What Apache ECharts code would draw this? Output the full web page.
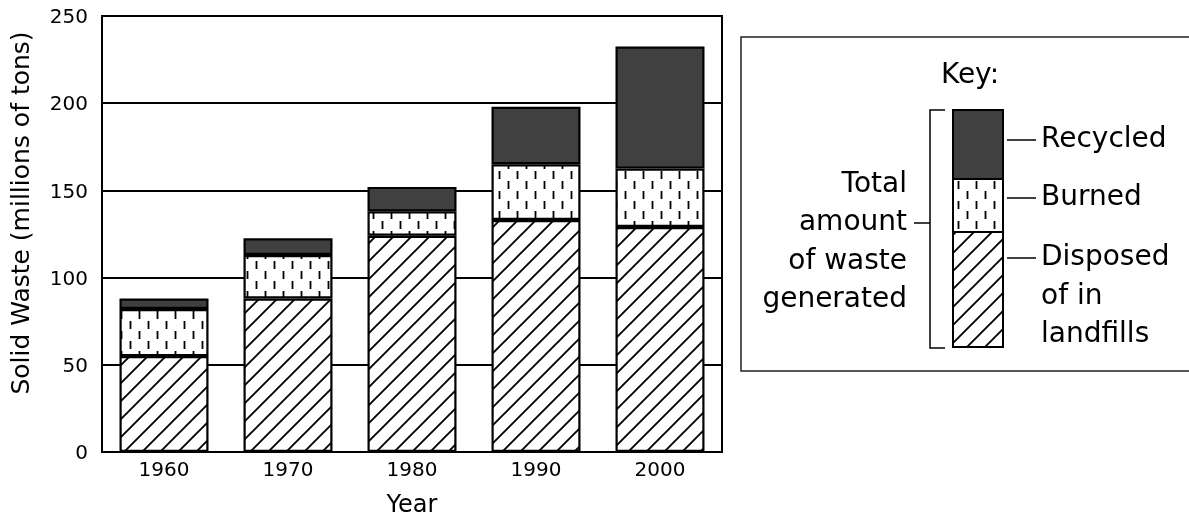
<!DOCTYPE html>
<html><head><meta charset="utf-8">
<script src="https://cdn.jsdelivr.net/npm/echarts@6/dist/echarts.min.js"></script>
<style>html,body{margin:0;padding:0;background:#fff}#c{width:1189px;height:523px}</style>
</head><body><div id="c"></div>
<script>
const categories = ['1960', '1970', '1980', '1990', '2000'];
const landfill = [55, 88, 124, 133, 129];
const burned = [27, 25, 14, 32, 33.5];
const recycled = [6, 9.5, 14, 33, 70];
const yTicks = [0, 50, 100, 150, 200, 250];

const FONT = 'DejaVu Sans';

function hatchPattern() {
  const s = 18, c = document.createElement('canvas');
  c.width = s; c.height = s;
  const g = c.getContext('2d');
  g.fillStyle = '#fff'; g.fillRect(0, 0, s, s);
  g.strokeStyle = '#000'; g.lineWidth = 1.9;
  g.beginPath();
  g.moveTo(-2, s + 2); g.lineTo(s + 2, -2);
  g.moveTo(-2, 2); g.lineTo(2, -2);
  g.moveTo(s - 2, s + 2); g.lineTo(s + 2, s - 2);
  g.stroke();
  return { image: c, repeat: 'repeat' };
}
function dashPattern() {
  const w = 18, h = 20, c = document.createElement('canvas');
  c.width = w; c.height = h;
  const g = c.getContext('2d');
  g.fillStyle = '#fff'; g.fillRect(0, 0, w, h);
  g.strokeStyle = '#000'; g.lineWidth = 1.8;
  g.beginPath();
  g.moveTo(4.5, 1); g.lineTo(4.5, 9);
  g.moveTo(13.5, 11); g.lineTo(13.5, 19);
  g.stroke();
  return { image: c, repeat: 'repeat' };
}
const HATCH = hatchPattern();
const DASH = dashPattern();
const DARK = '#404040';

const chart = echarts.init(document.getElementById('c'));
const segStyle = (fill) => ({ color: fill, borderColor: '#000', borderWidth: 2.2 });

const keyX = 953, keyW = 50;
const KF = '28px ' + FONT;
const option = {
  animation: false,
  textStyle: { fontFamily: FONT, color: '#000' },
  grid: { left: 102, right: 467, top: 16, bottom: 70, show: true, borderColor: '#000', borderWidth: 2, backgroundColor: 'transparent' },
  xAxis: {
    type: 'category', data: categories,
    axisLine: { lineStyle: { color: '#000', width: 2 } },
    axisTick: { show: false },
    axisLabel: { color: '#000', fontSize: 20, fontFamily: FONT, margin: 9 },
    name: 'Year', nameLocation: 'middle', nameGap: 42,
    nameTextStyle: { color: '#000', fontSize: 24, fontFamily: FONT }
  },
  yAxis: {
    type: 'value', min: yTicks[0], max: yTicks[yTicks.length - 1], interval: 50,
    axisLine: { show: true, lineStyle: { color: '#000', width: 2 } },
    axisTick: { show: false },
    splitLine: { lineStyle: { color: '#000', width: 2 } },
    axisLabel: { color: '#000', fontSize: 20, fontFamily: FONT, margin: 14, verticalAlign: 'top', padding: [-8, 0, 0, 0] }
  },
  series: [
    { name: 'Disposed of in landfills', type: 'bar', stack: 'w', data: landfill, barWidth: 89, itemStyle: segStyle(HATCH) },
    { name: 'Burned', type: 'bar', stack: 'w', data: burned, barWidth: 89, itemStyle: segStyle(DASH) },
    { name: 'Recycled', type: 'bar', stack: 'w', data: recycled, barWidth: 89, itemStyle: segStyle(DARK) }
  ],
  graphic: [
    { type: 'text', x: 22, y: 213, rotation: Math.PI / 2, style: { text: 'Solid Waste (millions of tons)', font: '25px ' + FONT, fill: '#000', align: 'center', verticalAlign: 'middle' } },
    { type: 'rect', shape: { x: 741, y: 37, width: 460, height: 334 }, style: { fill: '#fff', stroke: '#222', lineWidth: 1.5 } },
    { type: 'text', x: 970, y: 76, style: { text: 'Key:', font: KF, fill: '#000', align: 'center', verticalAlign: 'middle' } },
    { type: 'rect', shape: { x: keyX, y: 110, width: keyW, height: 69 }, style: { fill: DARK, stroke: '#000', lineWidth: 2 } },
    { type: 'rect', shape: { x: keyX, y: 179, width: keyW, height: 53 }, style: { fill: DASH, stroke: '#000', lineWidth: 2 } },
    { type: 'rect', shape: { x: keyX, y: 232, width: keyW, height: 115 }, style: { fill: HATCH, stroke: '#000', lineWidth: 2 } },
    { type: 'polyline', shape: { points: [[945, 110], [930, 110], [930, 348], [945, 348]] }, style: { stroke: '#000', lineWidth: 1.5, fill: null } },
    { type: 'line', shape: { x1: 914, y1: 223, x2: 930, y2: 223 }, style: { stroke: '#000', lineWidth: 1.5 } },
    { type: 'line', shape: { x1: 1007, y1: 140, x2: 1036, y2: 140 }, style: { stroke: '#000', lineWidth: 1.5 } },
    { type: 'line', shape: { x1: 1007, y1: 198, x2: 1036, y2: 198 }, style: { stroke: '#000', lineWidth: 1.5 } },
    { type: 'line', shape: { x1: 1007, y1: 258, x2: 1036, y2: 258 }, style: { stroke: '#000', lineWidth: 1.5 } },
    { type: 'text', x: 1041, y: 140, style: { text: 'Recycled', font: KF, fill: '#000', verticalAlign: 'middle' } },
    { type: 'text', x: 1041, y: 198, style: { text: 'Burned', font: KF, fill: '#000', verticalAlign: 'middle' } },
    { type: 'text', x: 1041, y: 258, style: { text: 'Disposed', font: KF, fill: '#000', verticalAlign: 'middle' } },
    { type: 'text', x: 1041, y: 297, style: { text: 'of in', font: KF, fill: '#000', verticalAlign: 'middle' } },
    { type: 'text', x: 1041, y: 335, style: { text: 'landfills', font: KF, fill: '#000', verticalAlign: 'middle' } },
    { type: 'text', x: 907, y: 185, style: { text: 'Total', font: KF, fill: '#000', align: 'right', verticalAlign: 'middle' } },
    { type: 'text', x: 907, y: 223, style: { text: 'amount', font: KF, fill: '#000', align: 'right', verticalAlign: 'middle' } },
    { type: 'text', x: 907, y: 262, style: { text: 'of waste', font: KF, fill: '#000', align: 'right', verticalAlign: 'middle' } },
    { type: 'text', x: 907, y: 300, style: { text: 'generated', font: KF, fill: '#000', align: 'right', verticalAlign: 'middle' } }
  ]
};
chart.setOption(option);
</script></body></html>
